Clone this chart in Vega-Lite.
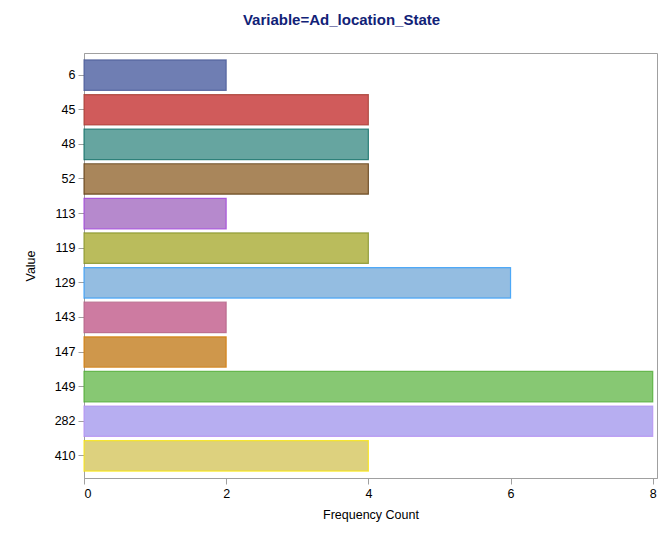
{
  "$schema": "https://vega.github.io/schema/vega-lite/v6.json",
  "autosize": "none",
  "width": 573,
  "height": 425,
  "padding": {"left": 84, "top": 53, "right": 4, "bottom": 55},
  "background": "#ffffff",
  "title": {
    "text": "Variable=Ad_location_State",
    "font": "Liberation Sans",
    "fontSize": 15,
    "fontWeight": "bold",
    "color": "#112277",
    "anchor": "middle",
    "dx": -29,
    "offset": 25
  },
  "data": {
    "values": [
      {"Value": "6", "Count": 2},
      {"Value": "45", "Count": 4},
      {"Value": "48", "Count": 4},
      {"Value": "52", "Count": 4},
      {"Value": "113", "Count": 2},
      {"Value": "119", "Count": 4},
      {"Value": "129", "Count": 6},
      {"Value": "143", "Count": 2},
      {"Value": "147", "Count": 2},
      {"Value": "149", "Count": 8},
      {"Value": "282", "Count": 8},
      {"Value": "410", "Count": 4}
    ]
  },
  "mark": {"type": "bar", "strokeWidth": 1.2, "strokeOpacity": 0.75, "fillOpacity": 1},
  "encoding": {
    "y": {
      "field": "Value",
      "type": "nominal",
      "sort": null,
      "scale": {"paddingInner": 0.12, "paddingOuter": 0.2},
      "axis": {
        "title": "Value",
        "titleFont": "Liberation Sans",
        "titleFontSize": 12.5,
        "titleFontWeight": "normal",
        "titleColor": "#000000",
        "titlePadding": 17,
        "labelFont": "Liberation Sans",
        "labelFontSize": 12.5,
        "labelColor": "#000000",
        "labelPadding": 3,
        "tickSize": 6,
        "tickColor": "#a0a0a0",
        "domainColor": "#a0a0a0"
      }
    },
    "x": {
      "field": "Count",
      "type": "quantitative",
      "scale": {"domain": [0, 8.06], "nice": false},
      "axis": {
        "title": "Frequency Count",
        "values": [0, 2, 4, 6, 8],
        "grid": false,
        "titleFont": "Liberation Sans",
        "titleFontSize": 12.5,
        "titleFontWeight": "normal",
        "titleColor": "#000000",
        "titlePadding": 9,
        "labelFont": "Liberation Sans",
        "labelFontSize": 12.5,
        "labelColor": "#000000",
        "labelPadding": 3,
        "tickSize": 6,
        "tickColor": "#a0a0a0",
        "domainColor": "#a0a0a0"
      }
    },
    "color": {
      "field": "Value",
      "type": "nominal",
      "sort": null,
      "legend": null,
      "scale": {"range": ["#6F7EB3", "#D05B5B", "#66A5A0", "#A9865B", "#B689CD", "#BABC5C", "#94BDE1", "#CD7BA1", "#CF974B", "#87C873", "#B7AEF1", "#DDD17E"]}
    },
    "stroke": {
      "field": "Value",
      "type": "nominal",
      "sort": null,
      "legend": null,
      "scale": {"range": ["#445694", "#A23A2E", "#01665E", "#543005", "#9D3CDB", "#7F8E1F", "#2597FA", "#B26084", "#D17800", "#47A82A", "#B38EF3", "#F9E600"]}
    }
  },
  "config": {
    "view": {"stroke": "#a0a0a0", "strokeWidth": 1}
  }
}
